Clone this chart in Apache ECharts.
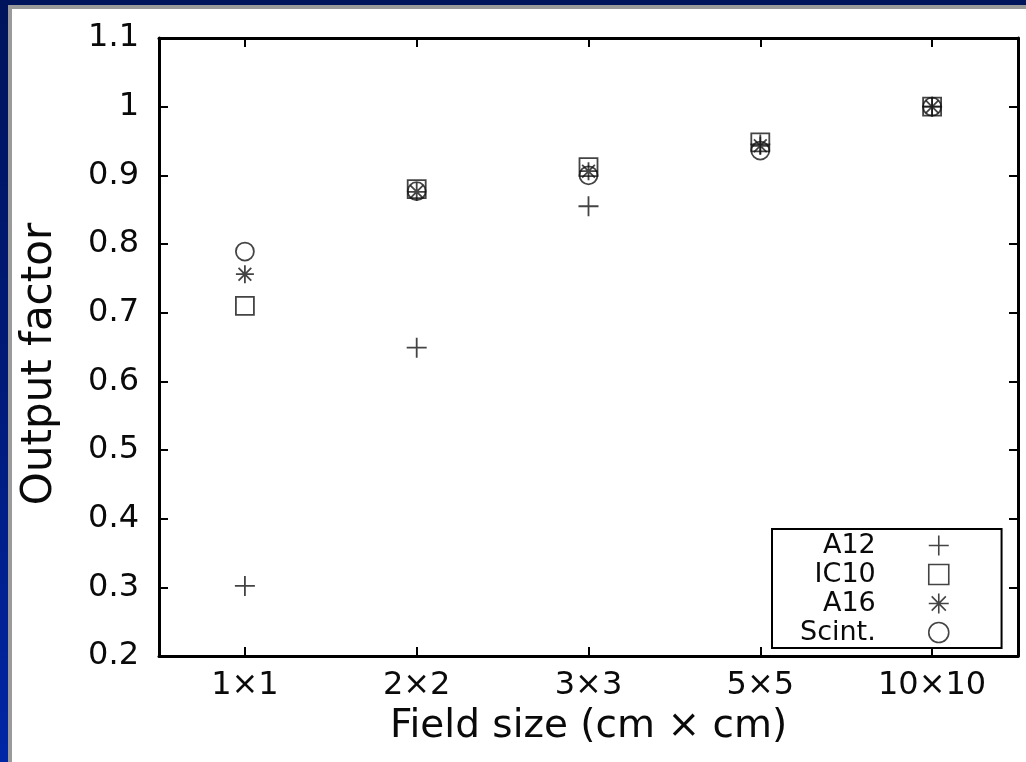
<!DOCTYPE html>
<html>
<head>
<meta charset="utf-8">
<script src="https://cdn.jsdelivr.net/npm/echarts@6/dist/echarts.min.js"></script>
<style>
  html, body { margin: 0; padding: 0; width: 1026px; height: 762px; overflow: hidden;
    background: linear-gradient(180deg, #00145c 0%, #001a78 50%, #0026a6 100%); }
  #panel { position: absolute; left: 8px; top: 5px; width: 1030px; height: 770px;
    border-left: 4px solid #9a9a9a; border-top: 4px solid #9a9a9a; background: #fff; }
  #chart { position: absolute; left: 0; top: 0; width: 1026px; height: 762px; }
</style>
</head>
<body>
<div id="panel"></div>
<div id="chart"></div>
<script>
// ---- data ----
const categories = ['1×1', '2×2', '3×3', '5×5', '10×10'];
const a12   = [0.302, 0.649, 0.855, 0.945, 1.000];
const ic10  = [0.710, 0.880, 0.912, 0.948, 1.000];
const a16   = [0.756, 0.876, 0.906, 0.943, 1.000];
const scint = [0.789, 0.877, 0.900, 0.936, 1.000];
const seriesNames = ['A12', 'IC10', 'A16', 'Scint.'];
const yMin = 0.2, yMax = 1.1, yStep = 0.1;

// ---- symbols ----
const plusPath   = 'path://M0,-10L0,10M-10,0L10,0';
const squarePath = 'path://M-10,-10L10,-10L10,10L-10,10Z';
const starPath   = 'path://M0,-10L0,10M-10,0L10,0M-7.07,-7.07L7.07,7.07M-7.07,7.07L7.07,-7.07';
const circlePath = 'path://M10,0A10,10,0,1,1,-10,0A10,10,0,1,1,10,0Z';

const FONT = 'DejaVu Sans';
const INK = '#0a0a0a';
const markStyle = { color: 'rgba(0,0,0,0)', borderColor: '#151515', borderWidth: 1.8 };

const chart = echarts.init(document.getElementById('chart'), null, { renderer: 'canvas' });

function mk(name, data, symbol, size) {
  return {
    name, type: 'scatter', data, symbol, symbolSize: size, symbolKeepAspect: true,
    itemStyle: markStyle, emphasis: { disabled: true }, animation: false, z: 3
  };
}

const axisLine = { show: true, lineStyle: { color: '#000', width: 3 } };
const tickIn = { show: true, inside: true, length: 9, lineStyle: { color: '#000', width: 2 } };

chart.setOption({
  backgroundColor: 'transparent',
  animation: false,
  grid: { left: 159, top: 38, right: 8, bottom: 106, containLabel: false },
  xAxis: [
    {
      type: 'category', data: categories, position: 'bottom', boundaryGap: true,
      axisLine, axisTick: Object.assign({ alignWithLabel: true }, tickIn),
      axisLabel: { fontFamily: FONT, fontSize: 32, color: INK, margin: 14 },
      splitLine: { show: false },
      name: 'Field size (cm × cm)', nameLocation: 'middle', nameGap: 46,
      nameTextStyle: { fontFamily: FONT, fontSize: 39, color: INK }
    },
    {
      type: 'category', data: categories, position: 'top', boundaryGap: true,
      axisLine, axisTick: Object.assign({ alignWithLabel: true }, tickIn),
      axisLabel: { show: false }, splitLine: { show: false }
    }
  ],
  yAxis: [
    {
      type: 'value', min: yMin, max: yMax, interval: yStep, position: 'left',
      axisLine, axisTick: tickIn,
      axisLabel: { fontFamily: FONT, fontSize: 32, color: INK, margin: 20,
        formatter: v => String(Number(v.toFixed(1))) },
      splitLine: { show: false },
      name: 'Output factor', nameLocation: 'middle', nameGap: 98, nameRotate: 90,
      nameTextStyle: { fontFamily: FONT, fontSize: 42, color: INK, padding: [0, 34, 0, 0] }
    },
    {
      type: 'value', min: yMin, max: yMax, interval: yStep, position: 'right',
      axisLine, axisTick: tickIn, axisLabel: { show: false }, splitLine: { show: false }
    }
  ],
  legend: {
    orient: 'vertical', left: 772, top: 529, align: 'right',
    itemWidth: 116, itemHeight: 20, itemGap: 2, symbolKeepAspect: true,
    padding: [3, 52, 2, 28],
    backgroundColor: '#fff', borderColor: '#000', borderWidth: 2, borderRadius: 0,
    selectedMode: false,
    textStyle: { fontFamily: FONT, fontSize: 27, color: INK },
    itemStyle: { color: 'rgba(0,0,0,0)', borderColor: '#151515', borderWidth: 1.6 },
    data: [
      { name: seriesNames[0], icon: plusPath },
      { name: seriesNames[1], icon: squarePath },
      { name: seriesNames[2], icon: starPath },
      { name: seriesNames[3], icon: circlePath }
    ]
  },
  series: [
    mk(seriesNames[0], a12, plusPath, 20),
    mk(seriesNames[1], ic10, squarePath, 18),
    mk(seriesNames[2], a16, starPath, 18),
    mk(seriesNames[3], scint, circlePath, 18)
  ]
});
</script>
</body>
</html>
